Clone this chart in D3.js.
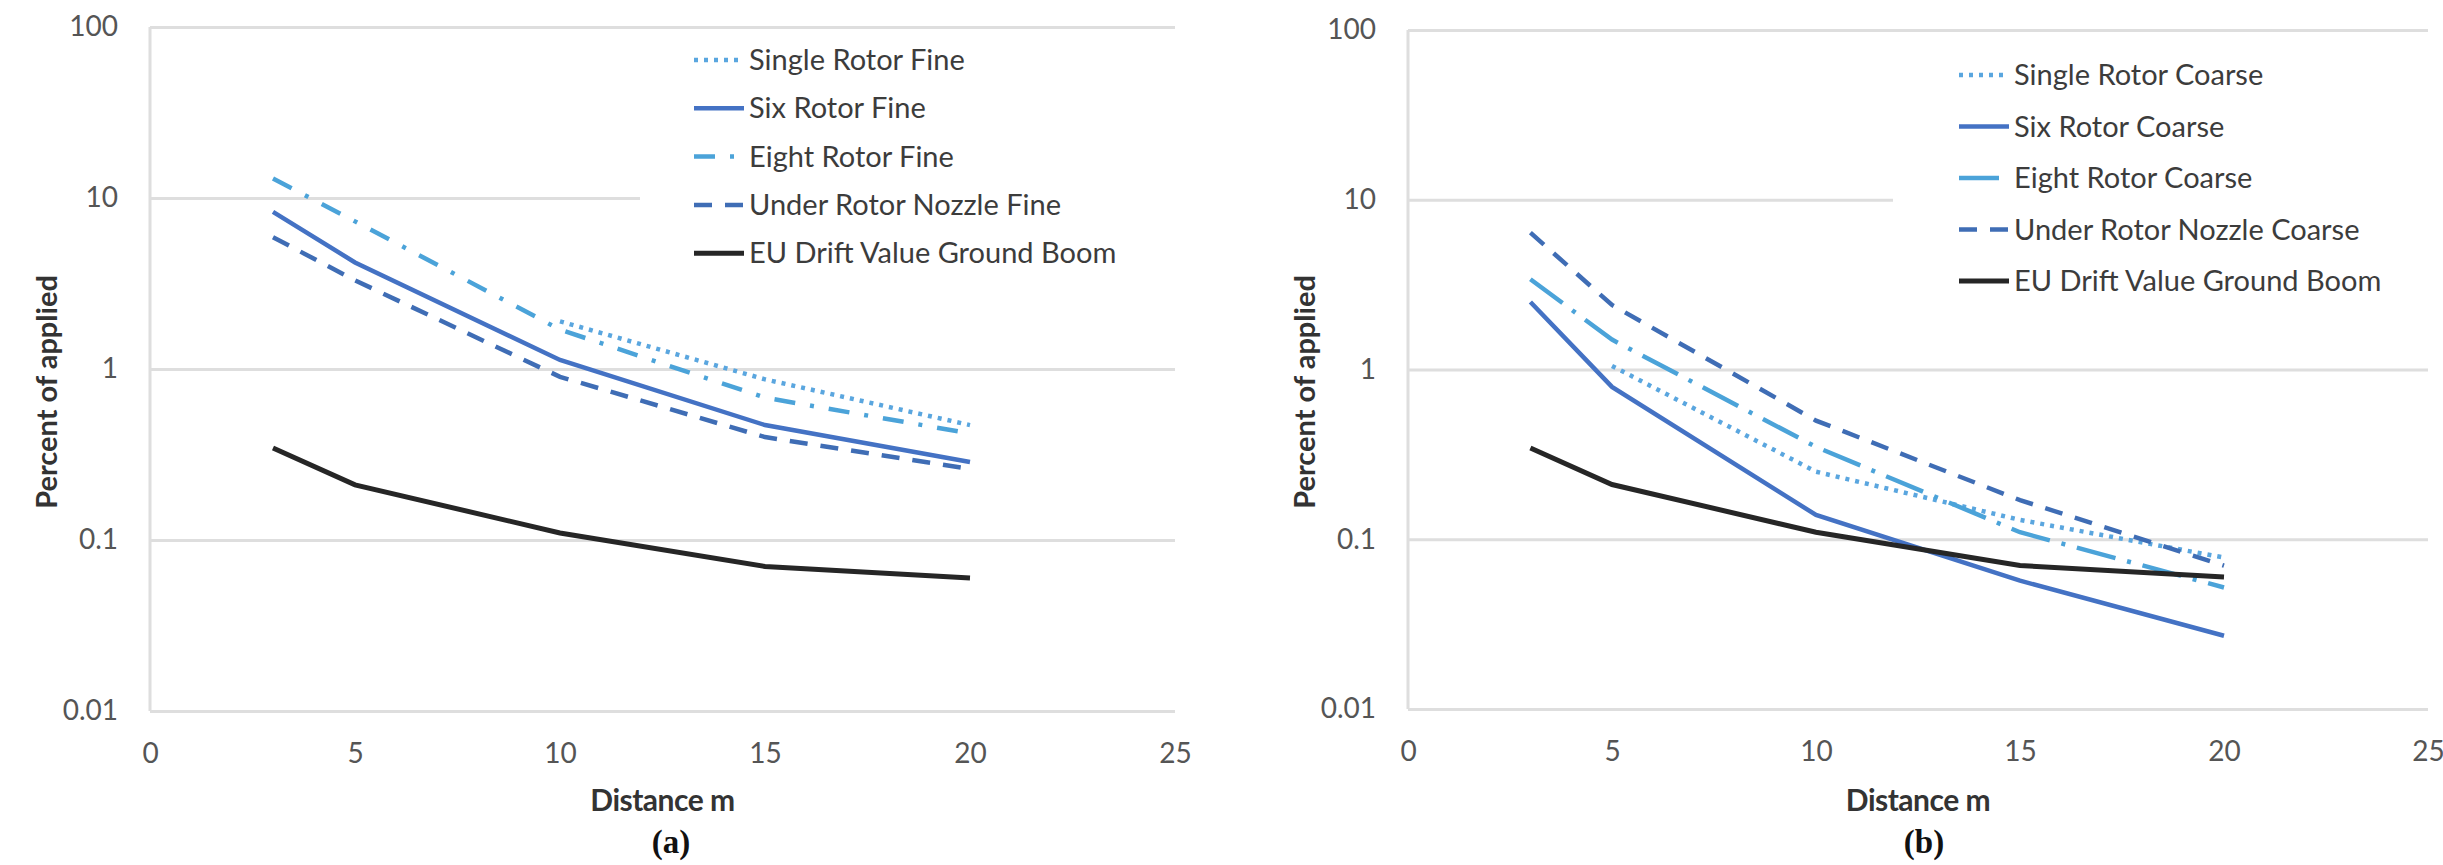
<!DOCTYPE html>
<html>
<head>
<meta charset="utf-8">
<script src="https://cdn.jsdelivr.net/npm/d3@7"></script>
<style>
  body { margin: 0; background: #fff; }
  text { font-family: Lato, "Open Sans", sans-serif; }
</style>
</head>
<body>
<svg id="chart" width="2443" height="865"></svg>
<script>
const distances = [3, 5, 10, 15, 20];
const xTicks = [0, 5, 10, 15, 20, 25];
const yTicks = [0.01, 0.1, 1, 10, 100];

// panel (a) fine droplets
const singleFine = [null, null, 1.9, 0.87, 0.47];
const sixFine = [8.3, 4.2, 1.13, 0.47, 0.286];
const eightFine = [13, 7.3, 1.7, 0.68, 0.42];
const underFine = [5.9, 3.3, 0.9, 0.4, 0.26];
// panel (b) coarse droplets
const singleCoarse = [null, 1.05, 0.25, 0.13, 0.078];
const sixCoarse = [2.5, 0.79, 0.139, 0.057, 0.027];
const eightCoarse = [3.4, 1.5, 0.35, 0.11, 0.052];
const underCoarse = [6.4, 2.4, 0.5, 0.17, 0.07];
const euDrift = [0.345, 0.21, 0.11, 0.07, 0.06];

const namesFine = ["Single Rotor Fine", "Six Rotor Fine", "Eight Rotor Fine", "Under Rotor Nozzle Fine", "EU Drift Value Ground Boom"];
const namesCoarse = ["Single Rotor Coarse", "Six Rotor Coarse", "Eight Rotor Coarse", "Under Rotor Nozzle Coarse", "EU Drift Value Ground Boom"];

const styles = [
  {color: "#5aa6df", dash: "4,6", width: 4.5},
  {color: "#4472c4", dash: null, width: 4.5},
  {color: "#4ba3d9", dash: "21,15,4,15", width: 4.5},
  {color: "#3f6db5", dash: "18,13", width: 4.5},
  {color: "#262626", dash: null, width: 5}
];
const stylesCoarse = [
  styles[0], styles[1],
  {color: "#4ba3d9", dash: "40,12,4,12", width: 4.5},
  styles[3], styles[4]
];

const svg = d3.select("#chart");

function panel(opt) {
  const x = d3.scaleLinear().domain([0, 25]).range([opt.left, opt.right]);
  const y = d3.scaleLog().domain([0.01, 100]).range([opt.bottom, opt.top]);
  const g = svg.append("g");

  // grid lines
  g.append("g")
    .attr("transform", "translate(" + opt.left + ",0)")
    .call(d3.axisLeft(y).tickValues(yTicks).tickSize(-(opt.right - opt.left)).tickFormat(d3.format("~g")))
    .call(a => a.select(".domain").remove())
    .call(a => a.selectAll(".tick line").attr("stroke", "#dedede").attr("stroke-width", 3))
    .call(a => a.selectAll(".tick text").attr("x", -32).attr("fill", "#555").style("font-size", "28px"));

  g.append("line")
    .attr("x1", opt.left).attr("x2", opt.left)
    .attr("y1", opt.top).attr("y2", opt.bottom)
    .attr("stroke", "#dedede").attr("stroke-width", 3);

  g.append("g")
    .attr("transform", "translate(0," + opt.bottom + ")")
    .call(d3.axisBottom(x).tickValues(xTicks).tickSize(0))
    .call(a => a.select(".domain").remove())
    .call(a => a.selectAll(".tick text").attr("y", 32).attr("fill", "#555").style("font-size", "28px"));

  // legend box hides the grid behind it
  g.append("rect")
    .attr("x", opt.legend.boxX).attr("y", opt.top + 8)
    .attr("width", opt.right - opt.legend.boxX).attr("height", 270)
    .attr("fill", "#fff");

  const line = d3.line()
    .defined(d => d[1] != null)
    .x(d => x(d[0]))
    .y(d => y(d[1]));

  opt.series.forEach((s, i) => {
    const st = opt.styles[i];
    g.append("path")
      .datum(distances.map((d, j) => [d, s[j]]))
      .attr("d", line)
      .attr("fill", "none")
      .attr("stroke", st.color)
      .attr("stroke-width", st.width)
      .attr("stroke-dasharray", st.dash);
  });

  const leg = g.append("g")
    .selectAll("g")
    .data(opt.names)
    .join("g")
    .attr("transform", (d, i) => "translate(" + opt.legend.x + "," + (opt.legend.y + i * opt.legend.dy) + ")");
  leg.append("line")
    .attr("x1", 0).attr("x2", 50)
    .attr("stroke", (d, i) => opt.styles[i].color)
    .attr("stroke-width", (d, i) => opt.styles[i].width)
    .attr("stroke-dasharray", (d, i) => opt.styles[i].dash);
  leg.append("text")
    .attr("x", 55).attr("dy", "0.35em")
    .attr("fill", "#3c3c3c")
    .style("font-size", "29px")
    .text(d => d);

  g.append("text")
    .attr("transform", "translate(" + opt.yTitleX + "," + 392 + ") rotate(-90)")
    .attr("text-anchor", "middle").attr("dy", "0.35em")
    .attr("fill", "#333")
    .style("font-size", "29px").style("font-weight", "bold")
    .text("Percent of applied");

  g.append("text")
    .attr("x", (opt.left + opt.right) / 2).attr("y", 800)
    .attr("text-anchor", "middle").attr("dy", "0.35em")
    .attr("fill", "#333")
    .style("font-size", "30px").style("font-weight", "bold")
    .style("letter-spacing", "-0.5px")
    .text("Distance m");

  g.append("text")
    .attr("x", opt.capX).attr("y", 853)
    .attr("text-anchor", "middle")
    .attr("fill", "#111")
    .style("font-family", "'Liberation Serif', 'DejaVu Serif', serif")
    .style("font-size", "33px").style("font-weight", "bold")
    .text(opt.caption);
}

panel({
  left: 150, right: 1175, top: 27, bottom: 711,
  series: [singleFine, sixFine, eightFine, underFine, euDrift],
  names: namesFine, styles: styles,
  legend: {boxX: 640, x: 694, y: 60, dy: 48.3},
  yTitleX: 47, capX: 671, caption: "(a)"
});

panel({
  left: 1408, right: 2428, top: 30, bottom: 709,
  series: [singleCoarse, sixCoarse, eightCoarse, underCoarse, euDrift],
  names: namesCoarse, styles: stylesCoarse,
  legend: {boxX: 1893, x: 1959, y: 75, dy: 51.5},
  yTitleX: 1305, capX: 1924, caption: "(b)"
});
</script>
</body>
</html>
